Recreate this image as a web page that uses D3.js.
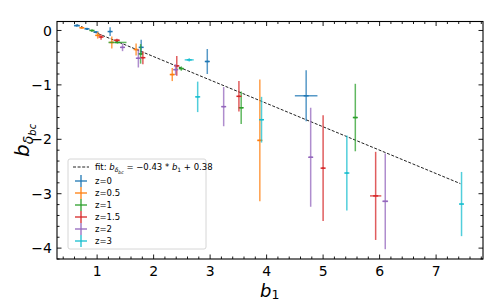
<!DOCTYPE html>
<html>
<head>
<meta charset="utf-8">
<script src="https://cdn.jsdelivr.net/npm/d3@7"></script>
<style>
  body { margin: 0; background: #fff; }
  text { font-family: "DejaVu Sans", sans-serif; }
</style>
</head>
<body>
<svg width="504" height="303"></svg>
<script>
var svg = d3.select("svg");

// redshift bins
var zLabels = ["z=0", "z=0.5", "z=1", "z=1.5", "z=2", "z=3"];
var zColors = ["#1f77b4", "#ff7f0e", "#2ca02c", "#d62728", "#9467bd", "#17becf"];

// b1 values and errors, per redshift
var b1 = [
  [0.64, 0.82, 0.98, 1.23, 1.78, 2.95, 4.70],
  [0.73, 1.01, 1.26, 1.69, 2.33, 3.88],
  [0.91, 1.36, 1.77, 2.49, 3.55, 5.57],
  [1.07, 1.35, 1.81, 2.41, 3.51, 5.00, 5.93],
  [1.45, 1.73, 2.39, 3.24, 4.78, 6.10],
  [2.63, 2.78, 3.91, 5.42, 7.45]
];
var b1Err = [
  [0.05, 0.02, 0.02, 0.02, 0.02, 0.03, 0.20],
  [0.03, 0.02, 0.02, 0.02, 0.03, 0.04],
  [0.02, 0.16, 0.02, 0.03, 0.03, 0.03],
  [0.02, 0.05, 0.02, 0.02, 0.02, 0.02, 0.10],
  [0.02, 0.02, 0.02, 0.02, 0.03, 0.05],
  [0.08, 0.02, 0.02, 0.02, 0.02]
];
// b_delta_bc values and errors
var bdbc = [
  [0.09, 0.03, -0.03, -0.02, -0.31, -0.57, -1.20],
  [0.05, -0.09, -0.22, -0.35, -0.81, -2.02],
  [0.00, -0.22, -0.43, -0.70, -1.42, -1.60],
  [-0.12, -0.18, -0.50, -0.65, -1.21, -2.53, -3.04],
  [-0.31, -0.51, -0.72, -1.40, -2.33, -3.14],
  [-0.54, -1.22, -1.64, -2.62, -3.19]
];
var bdbcErr = [
  [0.02, 0.02, 0.02, 0.08, 0.14, 0.23, 0.47],
  [0.02, 0.06, 0.11, 0.11, 0.12, 1.12],
  [0.02, 0.02, 0.18, 0.04, 0.30, 0.62],
  [0.05, 0.03, 0.12, 0.18, 0.28, 0.97, 0.81],
  [0.07, 0.17, 0.10, 0.36, 0.91, 0.88],
  [0.03, 0.28, 0.42, 0.69, 0.59]
];

// linear fit b_dbc = slope * b1 + icpt
var fitSlope = -0.43, fitIcpt = 0.38;
var fitRange = [0.64, 7.43];

var xTicks = [1, 2, 3, 4, 5, 6, 7];
var yTicks = [0, -1, -2, -3, -4];

var pL = 57, pR = 483, pT = 21.5, pB = 259;

var x = d3.scaleLinear().domain([0.29, 7.83]).range([pL, pR]);
var y = d3.scaleLinear().domain([0.165, -4.2]).range([pT, pB]);

var fmt = function(d) { return d < 0 ? "\u2212" + Math.abs(d) : "" + d; };
var xMinor = d3.range(0.4, 7.81, 0.2).filter(function(d) { return Math.abs(d - Math.round(d)) > 0.01; });
var yMinor = d3.range(-4.2, 0.17, 0.2).filter(function(d) { return Math.abs(d - Math.round(d)) > 0.01; });

// fit line
svg.append("line")
   .attr("x1", x(fitRange[0])).attr("y1", y(fitSlope * fitRange[0] + fitIcpt))
   .attr("x2", x(fitRange[1])).attr("y2", y(fitSlope * fitRange[1] + fitIcpt))
   .attr("stroke", "#222").attr("stroke-width", 1)
   .attr("stroke-dasharray", "3,1.6");

// error bars
zLabels.forEach(function(lab, s) {
  var g = svg.append("g").attr("stroke", zColors[s]).attr("stroke-opacity", 0.75)
             .attr("stroke-width", 1.5);
  var pts = b1[s].map(function(v, i) {
    return {x: v, xe: b1Err[s][i], y: bdbc[s][i], ye: bdbcErr[s][i]};
  });
  g.selectAll(".ye").data(pts).enter().append("line")
   .attr("x1", function(d) { return x(d.x); }).attr("x2", function(d) { return x(d.x); })
   .attr("y1", function(d) { return y(d.y + d.ye); }).attr("y2", function(d) { return y(d.y - d.ye); });
  g.selectAll(".xe").data(pts).enter().append("line")
   .attr("x1", function(d) { return x(d.x - d.xe); }).attr("x2", function(d) { return x(d.x + d.xe); })
   .attr("y1", function(d) { return y(d.y); }).attr("y2", function(d) { return y(d.y); });
  g.selectAll(".mk").data(pts).enter().append("line")
   .attr("x1", function(d) { return x(d.x) - 2.5; }).attr("x2", function(d) { return x(d.x) + 2.5; })
   .attr("y1", function(d) { return y(d.y); }).attr("y2", function(d) { return y(d.y); })
   .attr("stroke-opacity", 1);
});

// axes
var axes = svg.append("g").attr("stroke", "#000").attr("stroke-width", 0.9);
axes.append("rect").attr("x", pL).attr("y", pT)
    .attr("width", pR - pL).attr("height", pB - pT)
    .attr("fill", "none").attr("stroke-width", 1.1);

function xt(vals, len) {
  vals.forEach(function(v) {
    axes.append("line").attr("x1", x(v)).attr("x2", x(v)).attr("y1", pB).attr("y2", pB - len);
    axes.append("line").attr("x1", x(v)).attr("x2", x(v)).attr("y1", pT).attr("y2", pT + len);
  });
}
function yt(vals, len) {
  vals.forEach(function(v) {
    axes.append("line").attr("y1", y(v)).attr("y2", y(v)).attr("x1", pL).attr("x2", pL + len);
    axes.append("line").attr("y1", y(v)).attr("y2", y(v)).attr("x1", pR).attr("x2", pR - len);
  });
}
xt(xTicks, 4.5); xt(xMinor, 2.5);
yt(yTicks, 4.5); yt(yMinor, 2.5);

svg.append("g").selectAll("text").data(xTicks).enter().append("text")
   .attr("x", function(d) { return x(d); }).attr("y", 276)
   .attr("text-anchor", "middle").attr("font-size", 14)
   .text(fmt);
svg.append("g").selectAll("text").data(yTicks).enter().append("text")
   .attr("x", 52).attr("y", function(d) { return y(d) + 5.2; })
   .attr("text-anchor", "end").attr("font-size", 14)
   .text(fmt);

// axis labels
var xl = svg.append("text").attr("x", 260).attr("y", 296.5).attr("font-size", 18);
xl.append("tspan").attr("font-style", "italic").text("b");
xl.append("tspan").attr("font-size", 12.5).attr("dy", 2.5).text("1");

var yl = svg.append("text").attr("transform", "translate(29,157) rotate(-90)").attr("font-size", 20);
yl.append("tspan").attr("font-style", "italic").text("b");
yl.append("tspan").attr("font-style", "italic").attr("font-size", 14).attr("dy", 4).text("\u03b4");
yl.append("tspan").attr("font-style", "italic").attr("font-size", 10).attr("dy", 3).text("bc");

// legend
var leg = svg.append("g").attr("transform", "translate(68,159)");
leg.append("rect").attr("width", 138).attr("height", 90).attr("rx", 2)
   .attr("fill", "#fff").attr("fill-opacity", 0.85).attr("stroke", "#ccc").attr("stroke-width", 0.8);
leg.append("line").attr("x1", 5).attr("x2", 21).attr("y1", 8).attr("y2", 8)
   .attr("stroke", "#222").attr("stroke-dasharray", "3,1.6");
var ft = leg.append("text").attr("x", 27).attr("y", 11).attr("font-size", 8.5);
ft.append("tspan").text("fit: ");
ft.append("tspan").attr("font-style", "italic").text("b");
ft.append("tspan").attr("font-style", "italic").attr("font-size", 6).attr("dy", 2).text("\u03b4");
ft.append("tspan").attr("font-style", "italic").attr("font-size", 4.5).attr("dy", 1.5).text("bc");
ft.append("tspan").attr("dy", -3.5).text(" = \u22120.43 * ");
ft.append("tspan").attr("font-style", "italic").text("b");
ft.append("tspan").attr("font-size", 6).attr("dy", 2).text("1");
ft.append("tspan").attr("dy", -2).text(" + 0.38");

zLabels.forEach(function(lab, i) {
  var cy = 22 + i * 12;
  leg.append("line").attr("x1", 7).attr("x2", 19).attr("y1", cy).attr("y2", cy)
     .attr("stroke", zColors[i]).attr("stroke-width", 1.3);
  leg.append("line").attr("x1", 13).attr("x2", 13).attr("y1", cy - 6).attr("y2", cy + 6)
     .attr("stroke", zColors[i]).attr("stroke-width", 1.3);
  leg.append("text").attr("x", 27).attr("y", cy + 3).attr("font-size", 8.5).text(lab);
});
</script>
</body>
</html>
